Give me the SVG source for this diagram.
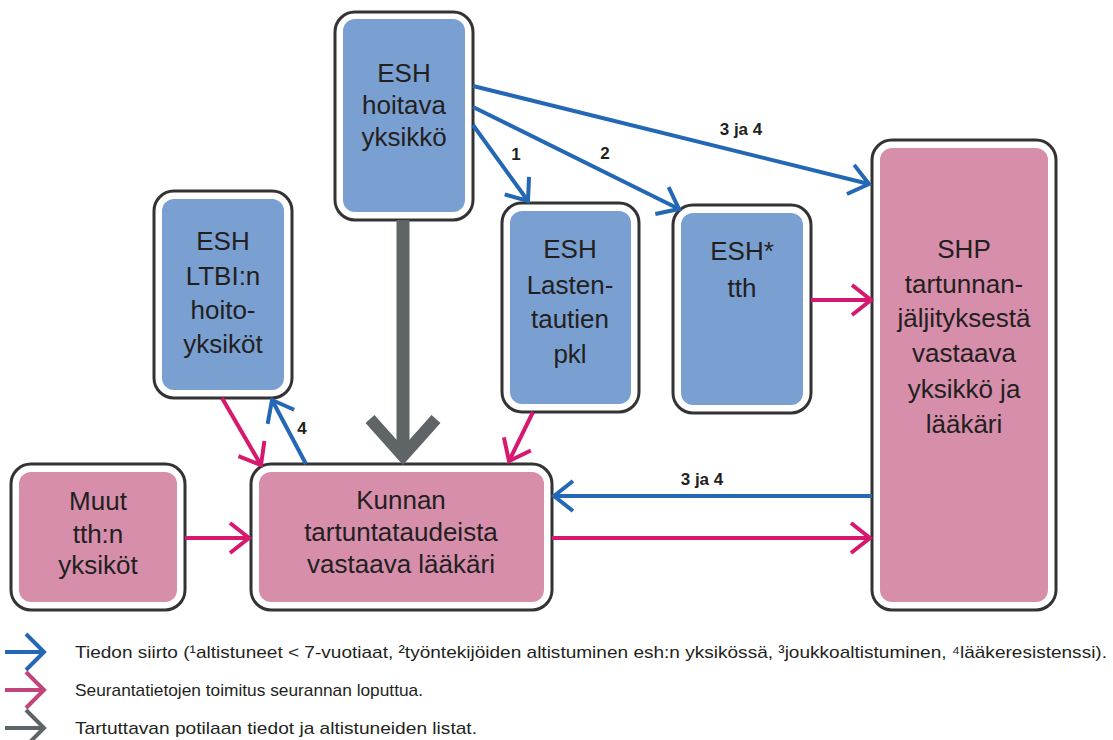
<svg xmlns="http://www.w3.org/2000/svg" width="1113" height="740" viewBox="0 0 1113 740">
<style>
.outer{fill:#fff;stroke:#333;stroke-width:3}
.blue{fill:#7a9fd1}
.pink{fill:#d68eab}
.nt{font-family:"Liberation Sans",Arial,sans-serif;font-size:26px;fill:#231f20;text-anchor:middle}
.lbl{font-family:"Liberation Sans",Arial,sans-serif;font-size:17px;font-weight:bold;fill:#231f20;text-anchor:middle}
.leg{font-family:"Liberation Sans",Arial,sans-serif;font-size:17px;fill:#231f20}
.cb{stroke:#2467b5;stroke-width:4;fill:none}
.cp{stroke:#d6186f;stroke-width:4;fill:none}
.cg{stroke:#5f6466;stroke-width:13;fill:none}
</style>
<defs>
<marker id="ab" markerUnits="userSpaceOnUse" viewBox="-25 -20 30 40" markerWidth="30" markerHeight="40" refX="0" refY="0" orient="auto" overflow="visible"><path d="M-19,-15 L0,0 L-19,15" fill="none" stroke="#2467b5" stroke-width="4"/></marker>
<marker id="ap" markerUnits="userSpaceOnUse" viewBox="-25 -20 30 40" markerWidth="30" markerHeight="40" refX="0" refY="0" orient="auto" overflow="visible"><path d="M-19,-15 L0,0 L-19,15" fill="none" stroke="#d6186f" stroke-width="4"/></marker>
<marker id="ag" markerUnits="userSpaceOnUse" viewBox="-50 -45 60 90" markerWidth="60" markerHeight="90" refX="0" refY="0" orient="auto" overflow="visible"><path d="M-37,-33 L0,0 L-37,33" fill="none" stroke="#5f6466" stroke-width="12"/></marker>
<marker id="lb" markerUnits="userSpaceOnUse" viewBox="-25 -25 30 50" markerWidth="30" markerHeight="50" refX="0" refY="0" orient="auto" overflow="visible"><path d="M-18,-18 L0,0 L-18,18" fill="none" stroke="#2467b5" stroke-width="4"/></marker>
<marker id="lp" markerUnits="userSpaceOnUse" viewBox="-25 -25 30 50" markerWidth="30" markerHeight="50" refX="0" refY="0" orient="auto" overflow="visible"><path d="M-18,-18 L0,0 L-18,18" fill="none" stroke="#c0457a" stroke-width="4"/></marker>
<marker id="lg" markerUnits="userSpaceOnUse" viewBox="-25 -25 30 50" markerWidth="30" markerHeight="50" refX="0" refY="0" orient="auto" overflow="visible"><path d="M-18,-18 L0,0 L-18,18" fill="none" stroke="#5f6466" stroke-width="4"/></marker>
</defs>

<g id="n-esh-hoitava">
<rect class="outer" x="335" y="12" width="138" height="208" rx="20"/>
<rect class="blue" x="343" y="19" width="122" height="193" rx="12"/>
<text class="nt" x="404" y="82">ESH</text>
<text class="nt" x="404" y="114">hoitava</text>
<text class="nt" x="404" y="146">yksikkö</text>
</g>

<g id="n-ltbi">
<rect class="outer" x="154" y="191" width="138" height="207" rx="20"/>
<rect class="blue" x="162" y="199" width="122" height="191" rx="12"/>
<text class="nt" x="223" y="250">ESH</text>
<text class="nt" x="223" y="285">LTBI:n</text>
<text class="nt" x="223" y="319">hoito-</text>
<text class="nt" x="223" y="353">yksiköt</text>
</g>

<g id="n-lasten">
<rect class="outer" x="502" y="203" width="137" height="209" rx="20"/>
<rect class="blue" x="510" y="211" width="121" height="193" rx="12"/>
<text class="nt" x="570" y="258">ESH</text>
<text class="nt" x="570" y="294">Lasten-</text>
<text class="nt" x="570" y="328">tautien</text>
<text class="nt" x="570" y="363">pkl</text>
</g>

<g id="n-tth">
<rect class="outer" x="673" y="205" width="138" height="208" rx="20"/>
<rect class="blue" x="681" y="213" width="122" height="192" rx="12"/>
<text class="nt" x="742" y="260">ESH*</text>
<text class="nt" x="742" y="297">tth</text>
</g>

<g id="n-shp">
<rect class="outer" x="872" y="140" width="184" height="470" rx="20"/>
<rect class="pink" x="880" y="148" width="168" height="454" rx="12"/>
<text class="nt" x="964" y="258">SHP</text>
<text class="nt" x="964" y="293">tartunnan-</text>
<text class="nt" x="964" y="327">jäljityksestä</text>
<text class="nt" x="964" y="362">vastaava</text>
<text class="nt" x="964" y="398">yksikkö ja</text>
<text class="nt" x="964" y="433">lääkäri</text>
</g>

<g id="n-muut">
<rect class="outer" x="11" y="464" width="174" height="146" rx="20"/>
<rect class="pink" x="19" y="472" width="158" height="130" rx="12"/>
<text class="nt" x="98" y="510">Muut</text>
<text class="nt" x="98" y="543">tth:n</text>
<text class="nt" x="98" y="574">yksiköt</text>
</g>

<g id="n-kunnan">
<rect class="outer" x="251" y="464" width="301" height="146" rx="20"/>
<rect class="pink" x="259" y="472" width="285" height="130" rx="12"/>
<text class="nt" x="401" y="509">Kunnan</text>
<text class="nt" x="401" y="541">tartuntataudeista</text>
<text class="nt" x="401" y="573">vastaava lääkäri</text>
</g>

<g id="connectors">
<line class="cb" x1="473" y1="86" x2="869" y2="184" marker-end="url(#ab)"/>
<line class="cb" x1="473" y1="107" x2="679" y2="209" marker-end="url(#ab)"/>
<line class="cb" x1="473" y1="125" x2="528" y2="201" marker-end="url(#ab)"/>
<line class="cb" x1="306" y1="464" x2="272" y2="400" marker-end="url(#ab)"/>
<line class="cb" x1="872" y1="496" x2="554" y2="496" marker-end="url(#ab)"/>
<line class="cp" x1="222" y1="398" x2="261" y2="465" marker-end="url(#ap)"/>
<line class="cp" x1="185" y1="538" x2="249" y2="538" marker-end="url(#ap)"/>
<line class="cp" x1="533" y1="412" x2="509" y2="461" marker-end="url(#ap)"/>
<line class="cp" x1="811" y1="300" x2="871" y2="300" marker-end="url(#ap)"/>
<line class="cp" x1="552" y1="538" x2="870" y2="538" marker-end="url(#ap)"/>
<line class="cg" x1="403" y1="220" x2="403" y2="456" marker-end="url(#ag)"/>
<text class="lbl" x="741" y="135">3 ja 4</text>
<text class="lbl" x="605" y="159">2</text>
<text class="lbl" x="516" y="160">1</text>
<text class="lbl" x="302" y="434">4</text>
<text class="lbl" x="702" y="485">3 ja 4</text>
</g>

<g id="legend">
<line x1="5" y1="652" x2="44" y2="652" stroke="#2467b5" stroke-width="4" marker-end="url(#lb)"/>
<line x1="5" y1="690" x2="44" y2="690" stroke="#c0457a" stroke-width="4" marker-end="url(#lp)"/>
<line x1="5" y1="728" x2="44" y2="728" stroke="#5f6466" stroke-width="4" marker-end="url(#lg)"/>
<text class="leg" x="75" y="658" textLength="1032" lengthAdjust="spacingAndGlyphs">Tiedon siirto (¹altistuneet &lt; 7-vuotiaat, ²työntekijöiden altistuminen esh:n yksikössä, ³joukkoaltistuminen, ⁴lääkeresistenssi).</text>
<text class="leg" x="75" y="696" textLength="348" lengthAdjust="spacingAndGlyphs">Seurantatietojen toimitus seurannan loputtua.</text>
<text class="leg" x="75" y="734" textLength="402" lengthAdjust="spacingAndGlyphs">Tartuttavan potilaan tiedot ja altistuneiden listat.</text>
</g>
</svg>
